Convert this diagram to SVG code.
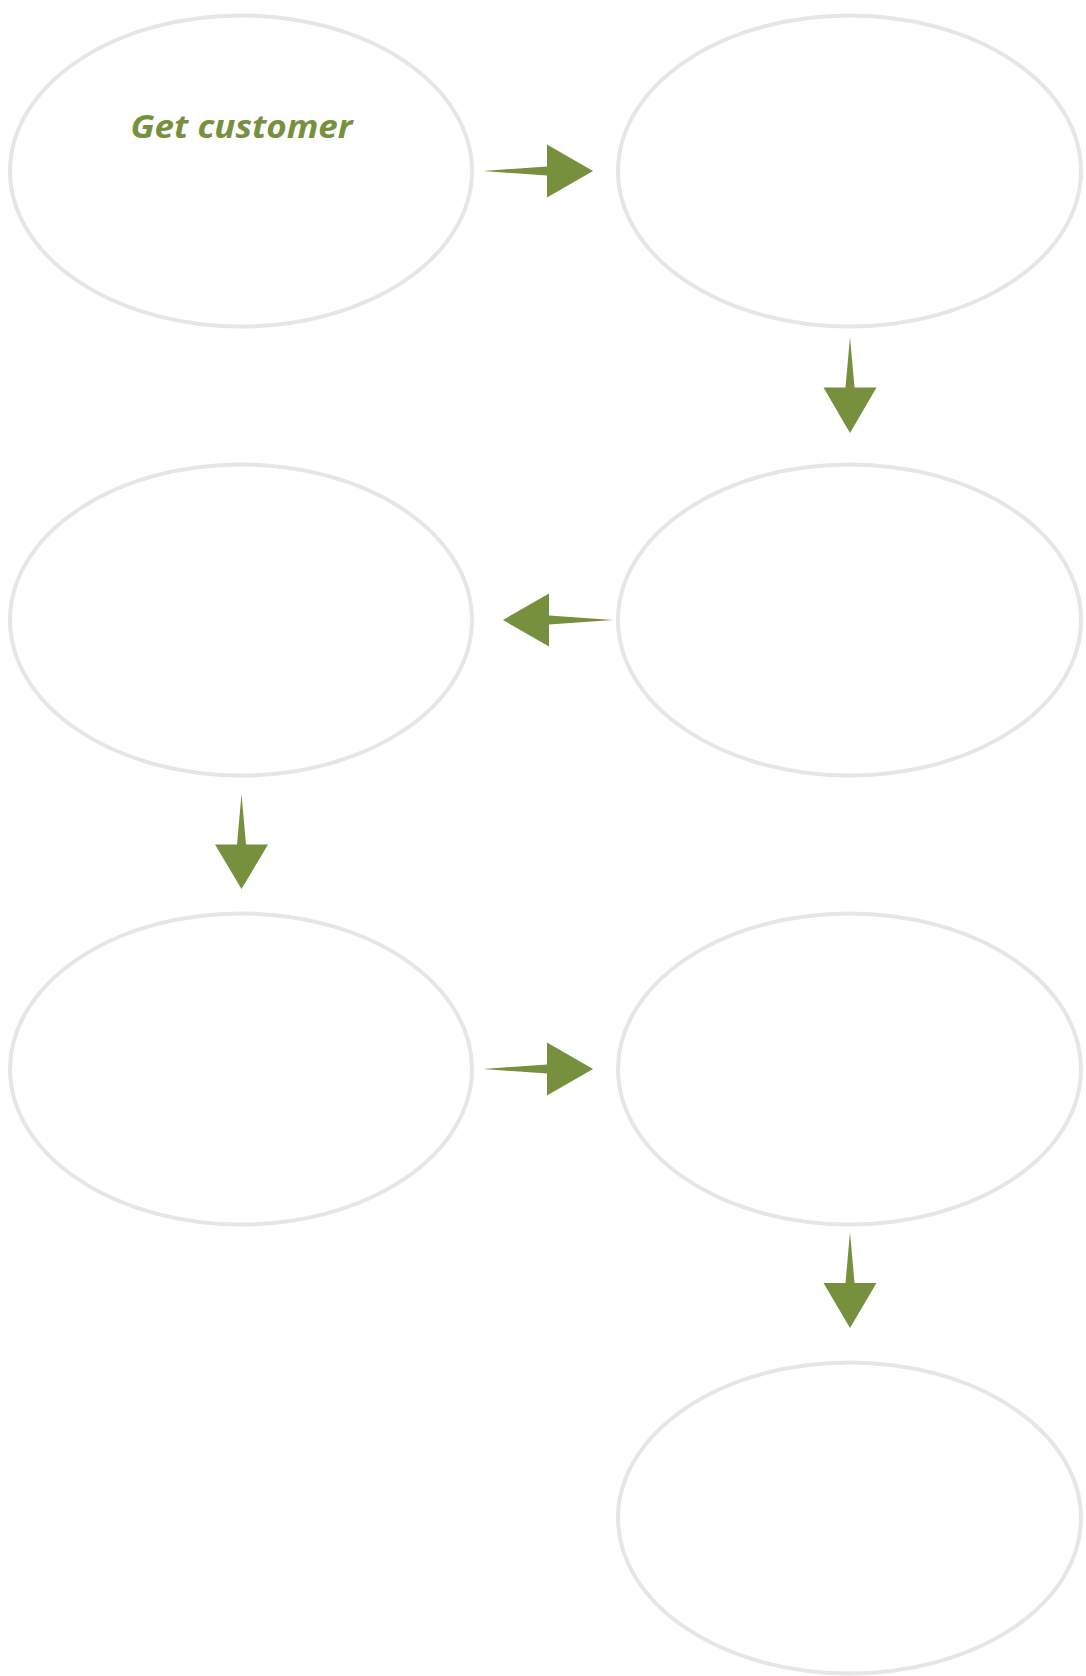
<svg xmlns="http://www.w3.org/2000/svg" width="1086" height="1676" viewBox="0 0 1086 1676">
<style>
.node{fill:#ffffff;stroke:#e6e6e6;stroke-width:4}
.arrow{fill:#76903e;stroke:none}
.label{font-family:"Open Sans","Noto Sans","Liberation Sans",sans-serif;font-style:italic;font-weight:bold;font-size:33px;fill:#76903e}
</style>
<rect width="1086" height="1676" fill="#ffffff"/>
<g id="connectors">
<path class="arrow" d="M483,171 L547,166.5 L547,144.5 L593,171 L547,197.5 L547,175.5 Z"/>
<path class="arrow" d="M850,337 L854.5,387.5 L876.5,387.5 L850,433 L823.5,387.5 L845.5,387.5 Z"/>
<path class="arrow" d="M613,620 L549,615.5 L549,593.5 L503,620 L549,646.5 L549,624.5 Z"/>
<path class="arrow" d="M241.5,794 L246,844.5 L268,844.5 L241.5,889 L215,844.5 L237,844.5 Z"/>
<path class="arrow" d="M483,1069 L547,1064.5 L547,1042.5 L593,1069 L547,1095.5 L547,1073.5 Z"/>
<path class="arrow" d="M850,1232 L854.5,1283 L876.5,1283 L850,1328 L823.5,1283 L845.5,1283 Z"/>
</g>
<g id="node1">
<ellipse class="node" cx="241" cy="171" rx="231" ry="155.5"/>
<text class="label" x="241.5" y="138" text-anchor="middle" textLength="222" lengthAdjust="spacingAndGlyphs">Get customer</text>
</g>
<g id="node2"><ellipse class="node" cx="849.5" cy="171" rx="231.5" ry="155.5"/></g>
<g id="node3"><ellipse class="node" cx="241" cy="620" rx="231" ry="155.5"/></g>
<g id="node4"><ellipse class="node" cx="849.5" cy="620" rx="231.5" ry="155.5"/></g>
<g id="node5"><ellipse class="node" cx="241" cy="1069" rx="231" ry="155.5"/></g>
<g id="node6"><ellipse class="node" cx="849.5" cy="1069" rx="231.5" ry="155.5"/></g>
<g id="node7"><ellipse class="node" cx="849.5" cy="1518" rx="231.5" ry="155.5"/></g>
</svg>
